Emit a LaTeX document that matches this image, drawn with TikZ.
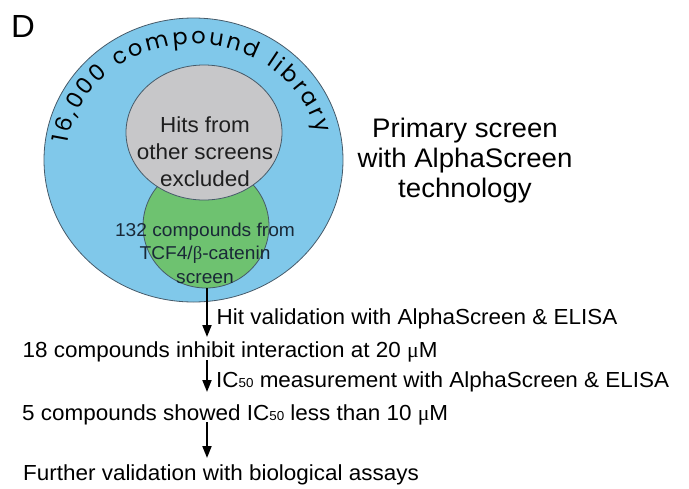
\documentclass[tikz,border=0pt]{standalone}
\usepackage{fontspec}
\setmainfont{Liberation Sans}[FakeStretch=1.03]
\newfontfamily\curvfont{Poppins}
\newfontfamily\greekfont{Liberation Serif}
\usetikzlibrary{shapes.geometric,decorations.text,arrows.meta}
\definecolor{ringblue}{RGB}{128,200,234}
\definecolor{hitgray}{RGB}{199,199,201}
\definecolor{tcfgreen}{RGB}{110,194,112}
\definecolor{edgecol}{RGB}{70,90,105}
\definecolor{greentext}{RGB}{25,40,55}
\newcommand{\mumark}{{\greekfont μ}}
\newcommand{\subfifty}{\raisebox{-0.5pt}{\fontsize{13}{13}\selectfont 50}}
\newcommand{\curvstyle}{\curvfont\fontsize{22.5}{22.5}\selectfont}
\begin{document}
\begin{tikzpicture}[x=1pt,y=1pt,
  circ/.style={ellipse, draw=edgecol, line width=0.8pt, inner sep=0pt},
  flow/.style={-{Triangle[width=9pt,length=12pt]}, line width=1.8pt},
  steptext/.style={anchor=base west, inner sep=0pt, font=\fontsize{21.8}{26}\selectfont}
]
\useasboundingbox (0,0) rectangle (689,-488);
\node[anchor=base west, inner sep=0pt, font=\fontsize{32}{32}\selectfont] (label) at (11,-37) {D};

\node[circ, fill=ringblue, minimum width=299pt, minimum height=284pt] (lib) at (193.5,-160) {};
\node[circ, fill=tcfgreen, minimum width=126pt, minimum height=124pt] (tcf) at (206,-226) {};
\node[circ, fill=hitgray, minimum width=156pt, minimum height=135pt] (hits) at (204,-132.5) {};

\path[decorate, decoration={text along path, text={|\curvstyle|16,000 compound library}, text align={fit to path}}]
  (lib.center) ++(172:127 and 116) arc[start angle=172, end angle=13, x radius=127pt, y radius=116pt];

\node[font=\fontsize{21.8}{27}\selectfont, align=center, text=black!88] (hitstext) at (205,-152) {Hits from\\other screens\\excluded};
\node[font=\fontsize{18.6}{23.5}\selectfont, align=center, text=greentext] (tcftext) at (205,-253) {132 compounds from\\TCF4/{\greekfont β}-catenin\\screen};

\node[font=\fontsize{26.8}{30}\selectfont, align=center] (primary) at (465,-161) {Primary screen\\with AlphaScreen\\technology};

\node[steptext] (hv) at (216.5,-324) {Hit validation with AlphaScreen \& ELISA};
\node[steptext] (s18) at (22.5,-357) {18 compounds inhibit interaction at 20 \mumark M};
\node[steptext] (ic) at (216,-387) {IC\subfifty{} measurement with AlphaScreen \& ELISA};
\node[steptext] (s5) at (22,-420) {5 compounds showed IC\subfifty{} less than 10 \mumark M};
\node[steptext] (fv) at (23,-480) {Further validation with biological assays};

\coordinate (a1e) at (207,-337);
\coordinate (a2s) at (207,-360);
\coordinate (a2e) at (207,-392);
\coordinate (a3s) at (207,-422);
\coordinate (a3e) at (207,-458);
\draw[flow] (tcf.south -| a1e) -- (a1e);
\draw[flow] (a2s) -- (a2e);
\draw[flow] (a3s) -- (a3e);
\end{tikzpicture}
\end{document}
